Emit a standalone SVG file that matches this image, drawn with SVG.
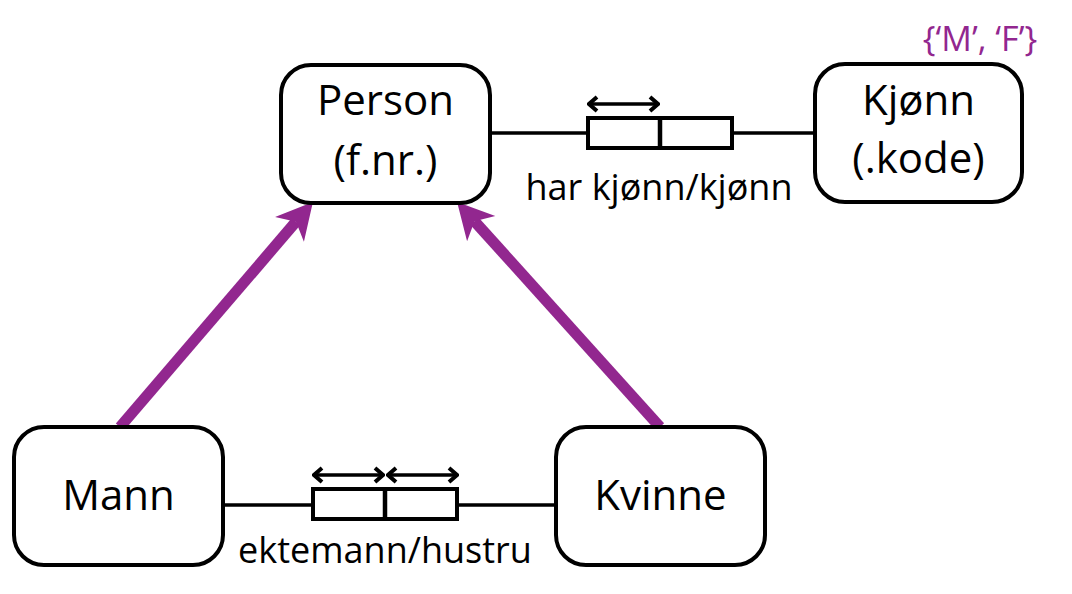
<svg xmlns="http://www.w3.org/2000/svg" width="1072" height="594" viewBox="0 0 1072 594">
<style>
.box{fill:#fff;stroke:#000;stroke-width:4}
.nt{font-family:"Open Sans","Liberation Sans",sans-serif;font-size:42px;fill:#000;text-anchor:middle}
.lt{font-family:"Open Sans","Liberation Sans",sans-serif;font-size:36px;fill:#000;text-anchor:middle}
.ln{stroke:#000;stroke-width:3.5;fill:none}
.dv{stroke:#000;stroke-width:4.5;fill:none}
.rb{fill:#fff;stroke:#000;stroke-width:4}
.da{stroke:#000;stroke-width:3.5;fill:none;marker-start:url(#ch);marker-end:url(#ch)}
.isa{stroke:#92278F;stroke-width:11;fill:none;marker-end:url(#ph)}
</style>
<defs>
<marker id="ch" markerUnits="userSpaceOnUse" viewBox="-12 -10 14 20" refX="0" refY="0" markerWidth="14" markerHeight="20" orient="auto-start-reverse">
<path d="M-8,-7 L0,0 L-8,7" fill="none" stroke="#000" stroke-width="4"/>
</marker>
<marker id="ph" markerUnits="userSpaceOnUse" viewBox="-12 -22 40 44" refX="0" refY="0" markerWidth="40" markerHeight="44" orient="auto">
<path d="M26,0 L-10,-19 L0,0 L-10,19 Z" fill="#92278F"/>
</marker>
</defs>
<g id="connectors">
<line class="isa" x1="120" y1="427" x2="296" y2="221.7"/>
<line class="isa" x1="660" y1="427" x2="474.5" y2="221.2"/>
<g id="rel-har-kjonn">
<line class="ln" x1="490" y1="133" x2="815" y2="133"/>
<rect class="rb" x="588" y="118" width="144" height="30"/>
<line class="dv" x1="660" y1="118" x2="660" y2="148"/>
<line class="da" x1="589" y1="104" x2="658" y2="104"/>
<text class="lt" x="659" y="200">har kjønn/kjønn</text>
</g>
<g id="rel-ektemann">
<line class="ln" x1="223" y1="505" x2="555" y2="505"/>
<rect class="rb" x="313" y="489" width="144" height="30"/>
<line class="dv" x1="385" y1="489" x2="385" y2="519"/>
<line class="da" x1="314" y1="475" x2="383" y2="475"/>
<line class="da" x1="388" y1="475" x2="457" y2="475"/>
<text class="lt" x="385" y="563">ektemann/hustru</text>
</g>
</g>
<g id="person">
<rect class="box" x="281" y="65" width="209" height="138" rx="30"/>
<text class="nt" x="385.5" y="115">Person</text>
<text class="nt" x="385.5" y="175">(f.nr.)</text>
</g>
<g id="kjonn">
<rect class="box" x="815" y="64" width="207" height="138" rx="30"/>
<text class="nt" x="918.5" y="115">Kjønn</text>
<text class="nt" x="918.5" y="173">(.kode)</text>
<text x="980" y="51" font-family="Open Sans, Liberation Sans, sans-serif" font-size="34" fill="#92278F" text-anchor="middle">{‘M’, ‘F’}</text>
</g>
<g id="mann">
<rect class="box" x="14" y="427" width="209" height="138" rx="30"/>
<text class="nt" x="118.5" y="510">Mann</text>
</g>
<g id="kvinne">
<rect class="box" x="556" y="427" width="209" height="138" rx="30"/>
<text class="nt" x="660.5" y="510">Kvinne</text>
</g>
</svg>
